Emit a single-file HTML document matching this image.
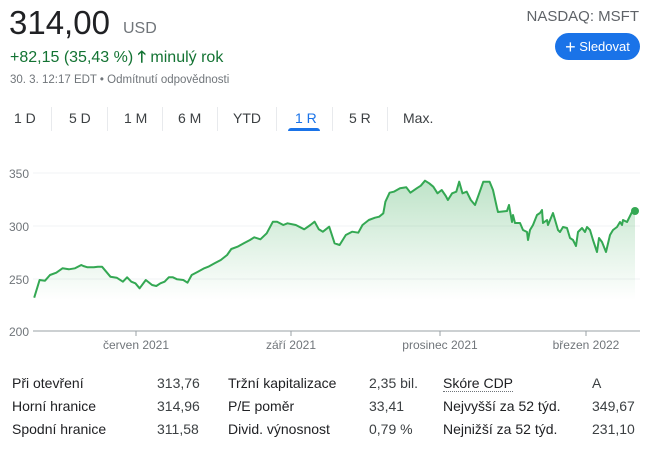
<!DOCTYPE html>
<html><head><meta charset="utf-8"><style>
body{margin:0;width:650px;height:449px;background:#fff;font-family:"Liberation Sans",Arial,sans-serif;position:relative;overflow:hidden;color:#202124}
.a{position:absolute;white-space:nowrap}
.tab{position:absolute;top:110px;font-size:14px;color:#3c4043}
.sep{position:absolute;top:107px;width:1px;height:24px;background:#e8eaed}
.r{position:absolute;font-size:14px;color:#202124}
.v{position:absolute;font-size:14px;color:#3c4043}
</style></head><body>
<div class="a" style="left:9px;top:4px;font-size:33px;color:#202124">314,00</div>
<div class="a" style="left:123px;top:20px;font-size:16px;color:#70757a">USD</div>
<div class="a" style="left:10px;top:46px;font-size:16px;color:#137333">+82,15 (35,43 %) <span style="font-weight:bold">🡑</span> minulý rok</div>
<div class="a" style="left:10px;top:74px;font-size:11.5px;color:#70757a">30. 3. 12:17 EDT • Odmítnutí odpovědnosti</div>
<div class="a" style="right:11px;top:8px;font-size:15px;color:#5f6368">NASDAQ: MSFT</div>
<div class="a" style="left:555px;top:33px;width:85px;height:27px;border-radius:14px;background:#1a73e8;color:#fff;font-size:13px;line-height:27px;text-align:center"><span style="font-size:18px;vertical-align:-2px">+</span> Sledovat</div>
<div class="tab" style="left:14px">1 D</div><div class="sep" style="left:51px"></div>
<div class="tab" style="left:69px">5 D</div><div class="sep" style="left:107px"></div>
<div class="tab" style="left:124px">1 M</div><div class="sep" style="left:162px"></div>
<div class="tab" style="left:178px">6 M</div><div class="sep" style="left:217px"></div>
<div class="tab" style="left:233px">YTD</div><div class="sep" style="left:276px"></div>
<div class="tab" style="left:295px;color:#1a73e8">1 R</div><div class="sep" style="left:332px"></div>
<div class="a" style="left:288px;top:128px;width:32px;height:3px;background:#1a73e8;border-radius:3px 3px 0 0"></div>
<div class="tab" style="left:349px">5 R</div><div class="sep" style="left:387px"></div>
<div class="tab" style="left:403px">Max.</div>
<svg class="a" style="left:0;top:0" width="650" height="449">
<defs><linearGradient id="g" gradientUnits="userSpaceOnUse" x1="0" y1="180" x2="0" y2="300"><stop offset="0" stop-color="#34a853" stop-opacity="0.32"/><stop offset="1" stop-color="#34a853" stop-opacity="0"/></linearGradient></defs>
<g font-size="12" fill="#70757a">
<line x1="33" x2="640" y1="173" y2="173" stroke="#f1f3f4"/>
<line x1="33" x2="640" y1="226" y2="226" stroke="#f1f3f4"/>
<line x1="33" x2="640" y1="279" y2="279" stroke="#f1f3f4"/>
<text x="9" y="178">350</text><text x="9" y="231">300</text><text x="9" y="284">250</text><text x="9" y="336">200</text>
<text x="136" y="349" text-anchor="middle">červen 2021</text>
<text x="291" y="349" text-anchor="middle">září 2021</text>
<text x="440" y="349" text-anchor="middle">prosinec 2021</text>
<text x="586" y="349" text-anchor="middle">březen 2022</text>
</g>
<polygon fill="url(#g)" points="34,331 34.2,297.7 39.6,280 45,280.7 50,275 56.3,272.7 62.5,268.3 68.8,269.3 75,268.3 81.3,265 83.3,266 87.5,267.3 93.8,267.3 97.9,266.7 102,266.7 110.4,276.7 116.7,277.7 122.9,281.7 127.1,277.3 131.3,281.7 135.4,283.3 139.6,288.3 145.8,280 152.1,285 156.3,286 160.4,283.3 164.6,281.7 168.8,277.3 172.9,277.3 177.1,279.3 183.3,280 187.5,282.7 191.7,275 197.9,271.7 204.2,268.3 208.3,266.7 214.6,263.3 220.8,260 227.1,255 231.3,249 237.5,246.7 243.8,243.3 250,240 254.2,237.3 260.4,239.3 266.7,233.3 272.9,221.7 277.1,221.7 283.3,225 287.5,223.3 295.8,225 304.2,229.3 310.4,225 314.6,221.7 318.8,229.3 322.9,231.7 329.2,226.7 334.6,243.3 339.6,245 345.8,235 352.1,231.7 358.3,232.7 362.5,225 368.8,220 375,217.7 379.2,216.7 383.3,213.3 385.4,201.7 389.6,192.7 393.8,191.7 400,188.3 406.3,187.3 410.4,192.7 416.7,188.3 420.8,185.7 425,180.7 429.2,183.3 433.3,186.7 437.5,193.3 441.7,190 445.8,196 447.9,200 452.1,193.3 456.3,191.7 459.2,181.7 462.5,193.3 466.7,191.7 470.8,200 475,205 479.2,193.3 483.3,181.7 489.6,181.7 493,190 497,208 498,212 507,211 509,205 512,222 513,215 515,223 520,223 523,230 527,232 528,240 530,230 533,225 537,215 540,213 542,210 543,223 547,220 548,225 553,213 558,230 560,232 563,227 567,228 570,238 573,240 576,246 578,232 582,228 585,232 587,227 590,230 593,240 597,252 599,238 602,242 606,252 610,235 613,230 617,227 620,222 622,225 623,220 627,222 632,212 635,211 635,331"/>
<polyline fill="none" stroke="#34a853" stroke-width="2" stroke-linejoin="round" points="34.2,297.7 39.6,280 45,280.7 50,275 56.3,272.7 62.5,268.3 68.8,269.3 75,268.3 81.3,265 83.3,266 87.5,267.3 93.8,267.3 97.9,266.7 102,266.7 110.4,276.7 116.7,277.7 122.9,281.7 127.1,277.3 131.3,281.7 135.4,283.3 139.6,288.3 145.8,280 152.1,285 156.3,286 160.4,283.3 164.6,281.7 168.8,277.3 172.9,277.3 177.1,279.3 183.3,280 187.5,282.7 191.7,275 197.9,271.7 204.2,268.3 208.3,266.7 214.6,263.3 220.8,260 227.1,255 231.3,249 237.5,246.7 243.8,243.3 250,240 254.2,237.3 260.4,239.3 266.7,233.3 272.9,221.7 277.1,221.7 283.3,225 287.5,223.3 295.8,225 304.2,229.3 310.4,225 314.6,221.7 318.8,229.3 322.9,231.7 329.2,226.7 334.6,243.3 339.6,245 345.8,235 352.1,231.7 358.3,232.7 362.5,225 368.8,220 375,217.7 379.2,216.7 383.3,213.3 385.4,201.7 389.6,192.7 393.8,191.7 400,188.3 406.3,187.3 410.4,192.7 416.7,188.3 420.8,185.7 425,180.7 429.2,183.3 433.3,186.7 437.5,193.3 441.7,190 445.8,196 447.9,200 452.1,193.3 456.3,191.7 459.2,181.7 462.5,193.3 466.7,191.7 470.8,200 475,205 479.2,193.3 483.3,181.7 489.6,181.7 493,190 497,208 498,212 507,211 509,205 512,222 513,215 515,223 520,223 523,230 527,232 528,240 530,230 533,225 537,215 540,213 542,210 543,223 547,220 548,225 553,213 558,230 560,232 563,227 567,228 570,238 573,240 576,246 578,232 582,228 585,232 587,227 590,230 593,240 597,252 599,238 602,242 606,252 610,235 613,230 617,227 620,222 622,225 623,220 627,222 632,212 635,211"/>
<circle cx="635" cy="211" r="4" fill="#34a853"/>
<line x1="33" x2="640" y1="331" y2="331" stroke="#9aa0a6" stroke-width="1"/>
<g stroke="#9aa0a6"><line x1="136" x2="136" y1="331" y2="336"/><line x1="291" x2="291" y1="331" y2="336"/><line x1="440" x2="440" y1="331" y2="336"/><line x1="586" x2="586" y1="331" y2="336"/></g>
</svg>
<div class="r" style="left:12px;top:375px">Při otevření</div><div class="v" style="left:157px;top:375px">313,76</div>
<div class="r" style="left:12px;top:398px">Horní hranice</div><div class="v" style="left:157px;top:398px">314,96</div>
<div class="r" style="left:12px;top:421px">Spodní hranice</div><div class="v" style="left:157px;top:421px">311,58</div>
<div class="r" style="left:228px;top:375px">Tržní kapitalizace</div><div class="v" style="left:369px;top:375px">2,35 bil.</div>
<div class="r" style="left:228px;top:398px">P/E poměr</div><div class="v" style="left:369px;top:398px">33,41</div>
<div class="r" style="left:228px;top:421px">Divid. výnosnost</div><div class="v" style="left:369px;top:421px">0,79 %</div>
<div class="r" style="left:443px;top:375px;border-bottom:1px dotted #70757a;line-height:16px">Skóre CDP</div><div class="v" style="left:592px;top:375px">A</div>
<div class="r" style="left:443px;top:398px">Nejvyšší za 52 týd.</div><div class="v" style="left:592px;top:398px">349,67</div>
<div class="r" style="left:443px;top:421px">Nejnižší za 52 týd.</div><div class="v" style="left:592px;top:421px">231,10</div>
</body></html>
